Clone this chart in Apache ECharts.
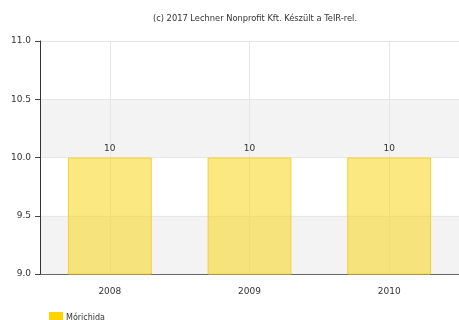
<!DOCTYPE html>
<html><head><meta charset="utf-8">
<script src="https://cdn.jsdelivr.net/npm/echarts@6/dist/echarts.min.js"></script>
<style>html,body{margin:0;padding:0;background:#fff}#c{width:459px;height:320px}</style>
</head><body><div id="c"></div>
<script>
const categories = ['2008', '2009', '2010'];
const values = [10, 10, 10];
const seriesName = 'Mórichida';
const titleText = '(c) 2017 Lechner Nonprofit Kft. Készült a TeIR-rel.';
const yMin = 9, yMax = 11, yStep = 0.5;

const chart = echarts.init(document.getElementById('c'), null, {renderer: 'canvas'});
const font = 'Verdana, "DejaVu Sans", sans-serif';
chart.setOption({
  animation: false,
  title: {text: titleText, left: 250, top: 10, textAlign: 'center',
    textStyle: {fontSize: 8.3, fontWeight: 'normal', color: '#333', fontFamily: font}},
  legend: {left: 44, top: 307, itemWidth: 14, itemHeight: 11, itemGap: 4,
    textStyle: {fontSize: 8, color: '#333', fontFamily: font, padding: [0,0,0,-2]},
    data: [{name: seriesName, icon: 'rect', itemStyle: {color: '#FFD400', borderWidth: 0}}]},
  grid: {left: 40, right: -2, top: 41, bottom: 46, containLabel: false},
  xAxis: {type: 'category', data: categories,
    axisLine: {lineStyle: {color: '#666', width: 1}},
    axisTick: {alignWithLabel: true, length: 5, lineStyle: {color: '#444'}},
    axisLabel: {fontSize: 9, color: '#333', fontFamily: font, margin: 13},
    splitLine: {show: true, alignWithLabel: true, lineStyle: {color: '#e6e6e6'}}},
  yAxis: {type: 'value', min: yMin, max: yMax, interval: yStep,
    axisLine: {show: true, lineStyle: {color: '#333'}},
    axisTick: {show: true, length: 5, lineStyle: {color: '#444'}},
    axisLabel: {fontSize: 9, color: '#333', fontFamily: font, margin: 9,
      formatter: v => v.toFixed(1)},
    splitLine: {lineStyle: {color: '#e6e6e6'}},
    splitArea: {show: true, areaStyle: {color: ['#f3f3f3', 'rgba(255,255,255,0)']}}},
  series: [{name: seriesName, type: 'bar', data: values, barWidth: '60%',
    itemStyle: {color: 'rgba(249,214,25,0.55)', borderColor: '#F2D03A', borderWidth: 1},
    label: {show: true, position: 'top', fontSize: 9, color: '#333', fontFamily: font, distance: 4}}]
});
</script></body></html>
